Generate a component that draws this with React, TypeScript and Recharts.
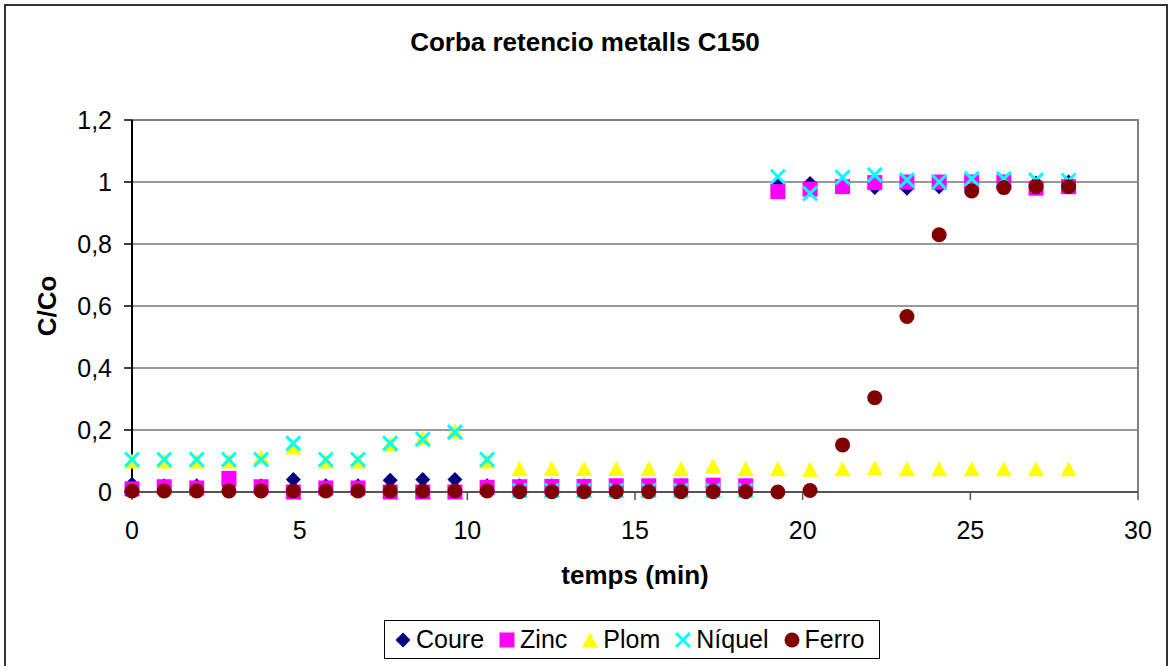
import React from 'react';
import {
  ScatterChart,
  Scatter,
  XAxis,
  YAxis,
  CartesianGrid,
  ReferenceArea,
  Legend,
  Label,
} from 'recharts';

// sampling times (min)
const minuts = [
  0, 0.96, 1.93, 2.89, 3.85, 4.81, 5.78, 6.74, 7.7, 8.67, 9.63, 10.59, 11.56, 12.52, 13.48,
  14.44, 15.41, 16.37, 17.33, 18.3, 19.26, 20.22, 21.19, 22.15, 23.11, 24.07, 25.04, 26.0,
  26.96, 27.93,
];

// C/Co per metal, one value per sampling time
const coure = [
  0.025, 0.02, 0.02, 0.02, 0.02, 0.04, 0.02, 0.02, 0.038, 0.04, 0.04, 0.02, 0.02, 0.02, 0.02,
  0.02, 0.02, 0.02, 0.02, 0.02, 0.99, 0.995, 0.99, 0.982, 0.98, 0.985, 1.0, 1.0, 0.997, 1.0,
];
const zinc = [
  0.01, 0.017, 0.013, 0.044, 0.017, 0.0, 0.013, 0.013, 0.0, 0.0, 0.0, 0.015, 0.017, 0.018,
  0.018, 0.02, 0.02, 0.02, 0.022, 0.02, 0.969, 0.977, 0.985, 0.998, 1.0, 1.0, 1.0, 1.0, 0.98,
  0.985,
];
const plom = [
  0.1, 0.1, 0.1, 0.1, 0.114, 0.145, 0.1, 0.1, 0.155, 0.176, 0.197, 0.1, 0.076, 0.076, 0.076,
  0.076, 0.076, 0.076, 0.084, 0.076, 0.075, 0.073, 0.075, 0.078, 0.075, 0.075, 0.075, 0.075,
  0.075, 0.075,
];
const niquel = [
  0.105, 0.105, 0.105, 0.105, 0.105, 0.157, 0.105, 0.105, 0.157, 0.17, 0.193, 0.105, 0.005,
  0.005, 0.005, 0.005, 0.005, 0.005, 0.005, 0.005, 1.017, 0.963, 1.015, 1.023, 1.006, 1.0,
  1.01, 1.01, 1.006, 1.005,
];
const ferro = [
  0.003, 0.003, 0.003, 0.003, 0.003, 0.003, 0.003, 0.003, 0.003, 0.003, 0.003, 0.003, 0.001,
  0.001, 0.001, 0.001, 0.001, 0.001, 0.001, 0.001, 0.0, 0.005, 0.152, 0.304, 0.566, 0.83,
  0.971, 0.982, 0.985, 0.985,
];

const xTicks = [0, 5, 10, 15, 20, 25, 30];
const yTicks = [0, 0.2, 0.4, 0.6, 0.8, 1, 1.2];

const FONT = "'Liberation Sans', Arial, sans-serif";

const toPoints = (vals: number[]) => minuts.map((t, i) => ({ t, v: vals[i] }));

type Mark = 'diamond' | 'square' | 'triangle' | 'x' | 'circle';

function Marker({ kind, cx, cy, color }: { kind: Mark; cx: number; cy: number; color: string }) {
  switch (kind) {
    case 'diamond':
      return (
        <polygon
          points={`${cx},${cy - 7.5} ${cx + 7.5},${cy} ${cx},${cy + 7.5} ${cx - 7.5},${cy}`}
          fill={color}
        />
      );
    case 'square':
      return <rect x={cx - 7.5} y={cy - 7.5} width={15} height={15} fill={color} />;
    case 'triangle':
      return (
        <polygon
          points={`${cx},${cy - 7.5} ${cx + 8},${cy + 7.5} ${cx - 8},${cy + 7.5}`}
          fill={color}
        />
      );
    case 'x':
      return (
        <g stroke={color} strokeWidth={3}>
          <line x1={cx - 7} y1={cy - 7} x2={cx + 7} y2={cy + 7} />
          <line x1={cx - 7} y1={cy + 7} x2={cx + 7} y2={cy - 7} />
        </g>
      );
    default:
      return <circle cx={cx} cy={cy} r={7.5} fill={color} />;
  }
}

const series: { name: string; vals: number[]; color: string; kind: Mark }[] = [
  { name: 'Coure', vals: coure, color: '#000080', kind: 'diamond' },
  { name: 'Zinc', vals: zinc, color: '#FF00FF', kind: 'square' },
  { name: 'Plom', vals: plom, color: '#FFFF00', kind: 'triangle' },
  { name: 'Níquel', vals: niquel, color: '#00FFFF', kind: 'x' },
  { name: 'Ferro', vals: ferro, color: '#800000', kind: 'circle' },
];

function LegendBox() {
  return (
    <div
      style={{
        boxSizing: 'border-box',
        width: '100%',
        height: '100%',
        border: '1px solid #000',
        background: '#fff',
        display: 'flex',
        alignItems: 'center',
        paddingLeft: 10,
        fontFamily: FONT,
        fontSize: 25,
        color: '#000',
      }}
    >
      {series.map((s) => (
        <div key={s.name} style={{ display: 'flex', alignItems: 'center', marginRight: 15 }}>
          <svg width={16} height={18} style={{ marginRight: 5 }}>
            <Marker kind={s.kind} cx={8} cy={9} color={s.color} />
          </svg>
          <span>{s.name}</span>
        </div>
      ))}
    </div>
  );
}

export default function App() {
  return (
    <div
      style={{
        position: 'absolute',
        left: 0,
        top: 0,
        width: 1170,
        height: 666,
        overflow: 'hidden',
        background: '#fff',
      }}
    >
      <div
        style={{
          position: 'absolute',
          left: 4,
          top: 4,
          width: 1160,
          height: 680,
          border: '2px solid #333',
        }}
      />
      <div
        style={{
          position: 'absolute',
          top: 27,
          left: 0,
          width: 1170,
          textAlign: 'center',
          fontFamily: FONT,
          fontWeight: 'bold',
          fontSize: 26,
          lineHeight: '30px',
        }}
      >
        Corba retencio metalls C150
      </div>
      <ScatterChart
        width={1170}
        height={666}
        margin={{ top: 120, right: 32, bottom: 114, left: 0 }}
        style={{ position: 'absolute', left: 0, top: 0, fontFamily: FONT }}
      >
        <CartesianGrid vertical={false} stroke="#333" strokeWidth={1} />
        <ReferenceArea x1={0} x2={30} y1={0} y2={1.2} fill="none" stroke="#808080" strokeWidth={2} />
        <XAxis
          type="number"
          dataKey="t"
          domain={[0, 30]}
          ticks={xTicks}
          interval={0}
          height={60}
          tickSize={8}
          tickMargin={21}
          axisLine={{ stroke: '#555', strokeWidth: 2 }}
          tickLine={{ stroke: '#555', strokeWidth: 1.5 }}
          tick={{ fill: '#000', fontSize: 25, fontFamily: FONT }}
        >
          <Label
            value="temps (min)"
            position="bottom"
            offset={14}
            style={{ fill: '#000', fontSize: 26, fontWeight: 'bold', fontFamily: FONT }}
          />
        </XAxis>
        <YAxis
          type="number"
          dataKey="v"
          domain={[0, 1.2]}
          ticks={yTicks}
          interval={0}
          width={132}
          tickSize={8}
          tickMargin={12}
          axisLine={{ stroke: '#000', strokeWidth: 2 }}
          tickLine={{ stroke: '#000', strokeWidth: 1.5 }}
          tick={{ fill: '#000', fontSize: 25, fontFamily: FONT }}
          tickFormatter={(v: number) => String(v).replace('.', ',')}
        >
          <Label
            content={({ viewBox }: any) => {
              const cy = viewBox.y + viewBox.height / 2;
              const cx = viewBox.x + 47;
              return (
                <text
                  x={cx}
                  y={cy}
                  transform={`rotate(-90 ${cx} ${cy})`}
                  textAnchor="middle"
                  dominantBaseline="central"
                  style={{ fill: '#000', fontSize: 26, fontWeight: 'bold', fontFamily: FONT }}
                >
                  C/Co
                </text>
              );
            }}
          />
        </YAxis>
        {series.map((s) => (
          <Scatter
            key={s.name}
            name={s.name}
            data={toPoints(s.vals)}
            isAnimationActive={false}
            shape={(p: any) => <Marker kind={s.kind} cx={p.cx} cy={p.cy} color={s.color} />}
          />
        ))}
        <Legend
          layout="horizontal"
          verticalAlign="middle"
          align="center"
          wrapperStyle={{ left: 384, top: 620, width: 496, height: 39 }}
          content={() => <LegendBox />}
        />
      </ScatterChart>
    </div>
  );
}
